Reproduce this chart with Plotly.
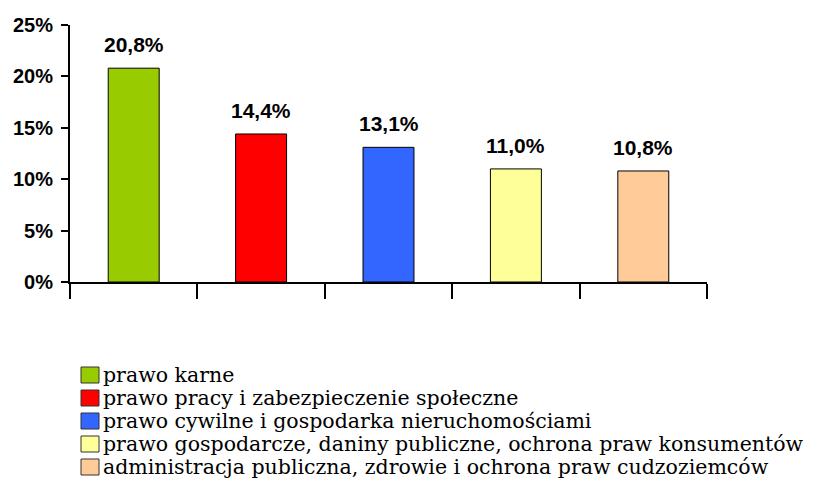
import plotly.graph_objects as go

categories = [
    "prawo karne",
    "prawo pracy i zabezpieczenie społeczne",
    "prawo cywilne i gospodarka nieruchomościami",
    "prawo gospodarcze, daniny publiczne, ochrona praw konsumentów",
    "administracja publiczna, zdrowie i ochrona praw cudzoziemców",
]
values = [0.208, 0.144, 0.131, 0.110, 0.108]
colors = ["#99CC00", "#FF0000", "#3366FF", "#FFFF99", "#FFCC99"]
y_ticks = [0, 0.05, 0.10, 0.15, 0.20, 0.25]

OFF = 8  # page body margin
W, H = 823 - OFF, 504 - OFF
L, R, T, B = 70 - OFF, 707 - OFF, 25 - OFF, 282 - OFF  # plot area in figure pixels

def px_x(p):
    return (p - OFF - L) / (R - L)

def px_y(p):
    return (B - (p - OFF)) / (B - T)

xpos = list(range(1, len(categories) + 1))

fig = go.Figure()
for i, (cat, v, c) in enumerate(zip(categories, values, colors)):
    fig.add_trace(go.Bar(
        x=[xpos[i]], y=[v], name=cat,
        marker=dict(color=c, line=dict(color="black", width=1)),
        width=0.4, showlegend=False,
        hoverinfo="skip",
    ))

annotations = []
for i, v in enumerate(values):
    annotations.append(dict(
        x=xpos[i], y=v, xref="x", yref="y",
        text=f"{v*100:.1f}%".replace(".", ","),
        showarrow=False, yanchor="bottom", yshift=10,
        font=dict(family="Liberation Sans, Arial", size=21, color="black", weight="bold"),
    ))

shapes = []
row0, row_gap = 375, 23
for i, (cat, c) in enumerate(zip(categories, colors)):
    cy = row0 + i * row_gap
    shapes.append(dict(
        type="rect", xref="paper", yref="paper",
        x0=px_x(81), x1=px_x(99), y0=px_y(cy + 8), y1=px_y(cy - 8),
        fillcolor=c, line=dict(color="#333333", width=1),
    ))
    annotations.append(dict(
        x=px_x(101), y=px_y(cy), xref="paper", yref="paper",
        text=cat, showarrow=False, xanchor="left", yanchor="middle",
        font=dict(family="DejaVu Serif", size=20.5, color="black"),
    ))

fig.update_layout(
    template="none",
    width=W, height=H,
    margin=dict(l=L, r=W - R, t=T, b=H - B, pad=0, autoexpand=False),
    plot_bgcolor="white", paper_bgcolor="white",
    barmode="overlay",
    annotations=annotations,
    shapes=shapes,
    xaxis=dict(
        range=[0.5, len(categories) + 0.5],
        tickvals=[k + 0.5 for k in range(len(categories) + 1)],
        ticktext=[""] * (len(categories) + 1),
        ticks="outside", ticklen=15, tickwidth=2, tickcolor="black",
        showline=True, linecolor="black", linewidth=2,
        showgrid=False, zeroline=False, fixedrange=True, automargin=False,
    ),
    yaxis=dict(
        range=[0, 0.25],
        tickvals=y_ticks,
        tickformat=".0%",
        ticks="outside", ticklen=7, tickwidth=2, tickcolor="black",
        ticklabelstandoff=4,
        showline=True, linecolor="black", linewidth=2,
        showgrid=False, zeroline=False, automargin=False,
        tickfont=dict(family="Liberation Sans, Arial", size=20, color="black", weight="bold"),
    ),
    showlegend=False,
)

fig.write_html("out.html")
